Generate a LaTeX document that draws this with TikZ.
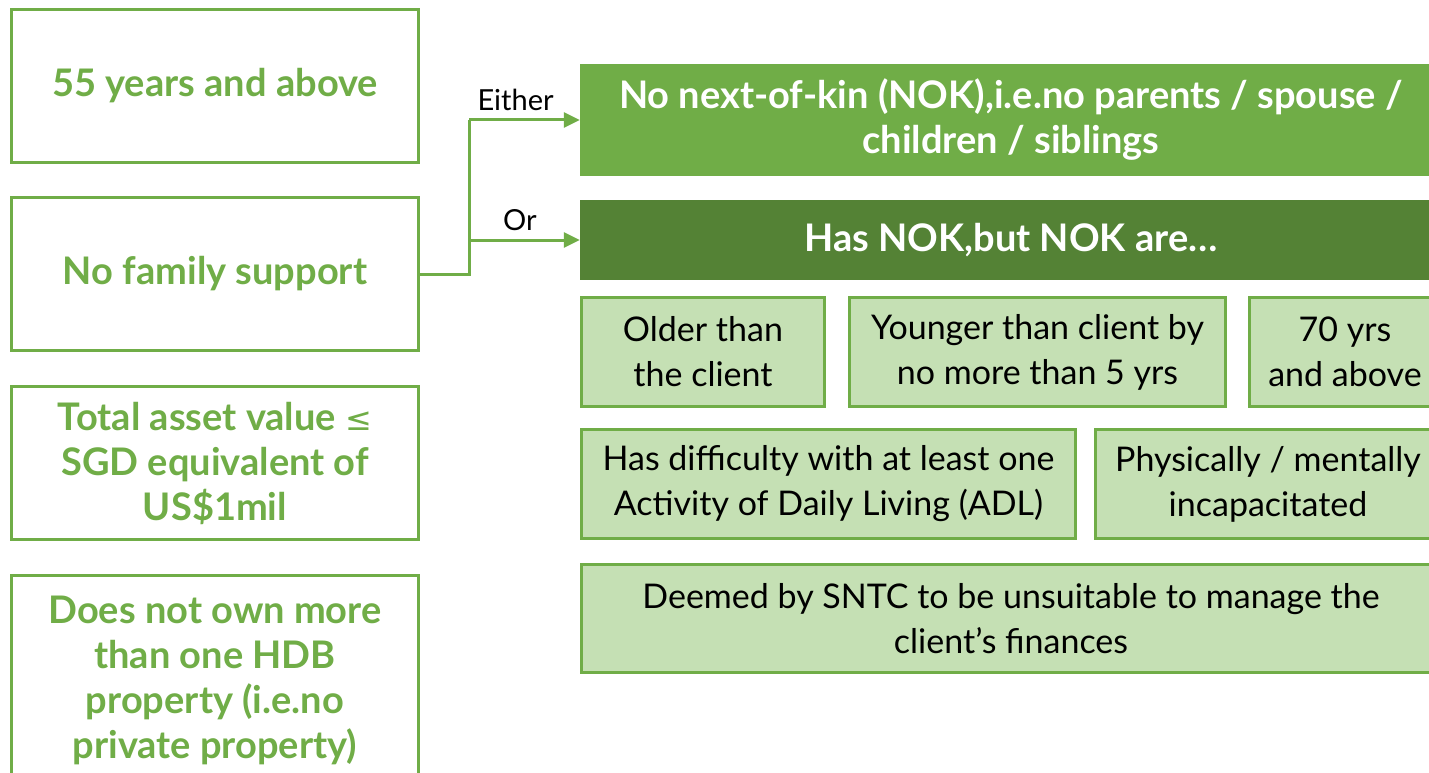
\documentclass[tikz,border=0pt]{standalone}
\usepackage{fontspec}
\setmainfont{Lato}
\newfontfamily\symfont{DejaVu Sans}
\usetikzlibrary{arrows.meta}
\definecolor{leaf}{HTML}{70AD47}
\definecolor{moss}{HTML}{548235}
\definecolor{pale}{HTML}{C5E0B4}
\begin{document}
\begin{tikzpicture}[x=1pt,y=-1pt,
  crit/.style={draw=leaf,line width=3pt,fill=white,text=leaf,align=center,inner sep=0pt,minimum width=407pt,font=\bfseries\fontsize{38}{45}\selectfont},
  head/.style={fill=#1,text=white,align=center,inner sep=0pt,minimum width=862pt,font=\bfseries\fontsize{38}{45}\selectfont},
  cond/.style={draw=leaf,line width=3pt,fill=pale,align=center,inner sep=0pt,minimum height=109pt,font=\fontsize{34}{45}\selectfont},
  link/.style={draw=leaf,line width=3pt},
  tag/.style={above,inner sep=8pt,font=\fontsize{29}{34}\selectfont}]
\useasboundingbox (0,0) rectangle (1429,773);
\clip (0,0) rectangle (1429,773);
% left column
\node[crit,minimum height=153pt] (age) at (215,86) {55 years and above};
\node[crit,minimum height=153pt] (nofam) at (215,274) {No family support};
\node[crit,minimum height=153pt] (asset) at (215,463) {Total asset value {\symfont\mdseries\fontsize{32}{45}\selectfont ≤}\\SGD equivalent of\\US\$1mil};
\node[crit,minimum height=210pt] (hdb) at (215,680) {Does not own more\\than one HDB\\property (i.e.no\\private property)};
% right side
\node[head=leaf,minimum height=112pt] (nonok) at (1011,120) {No next-of-kin (NOK),i.e.no parents / spouse /\\children / siblings};
\node[head=moss,minimum height=80pt] (hasnok) at (1011,240) {Has NOK,but NOK are\ldots};
\node[cond,minimum width=243pt] (older) at (703,352) {Older than\\the client};
\node[cond,minimum width=376pt] (younger) at (1037.5,352) {Younger than client by\\no more than 5 yrs};
\node[cond,minimum width=191pt] (seventy) at (1345,352) {70 yrs\\and above};
\node[cond,minimum width=494pt] (adl) at (828.5,484) {Has difficulty with at least one\\Activity of Daily Living (ADL)};
\node[cond,minimum width=345pt] (incap) at (1268,484) {Physically / mentally\\incapacitated};
\node[cond,minimum width=859pt,minimum height=108pt] (sntc) at (1011,618.5) {Deemed by SNTC to be unsuitable to manage the\\client’s finances};
% connectors
\coordinate (fork) at (469,274);
\coordinate (forkA) at (469,120);
\coordinate (forkB) at (469,240);
\draw[link] (nofam.east) -- (fork) -- (forkA);
\draw[link,-{Triangle[length=16pt,width=15pt]}] (forkA) -- node[tag,pos=0.42]{Either} (nonok.west);
\draw[link,-{Triangle[length=16pt,width=15pt]}] (forkB) -- node[tag,pos=0.46]{Or} (hasnok.west);
\end{tikzpicture}
\end{document}
